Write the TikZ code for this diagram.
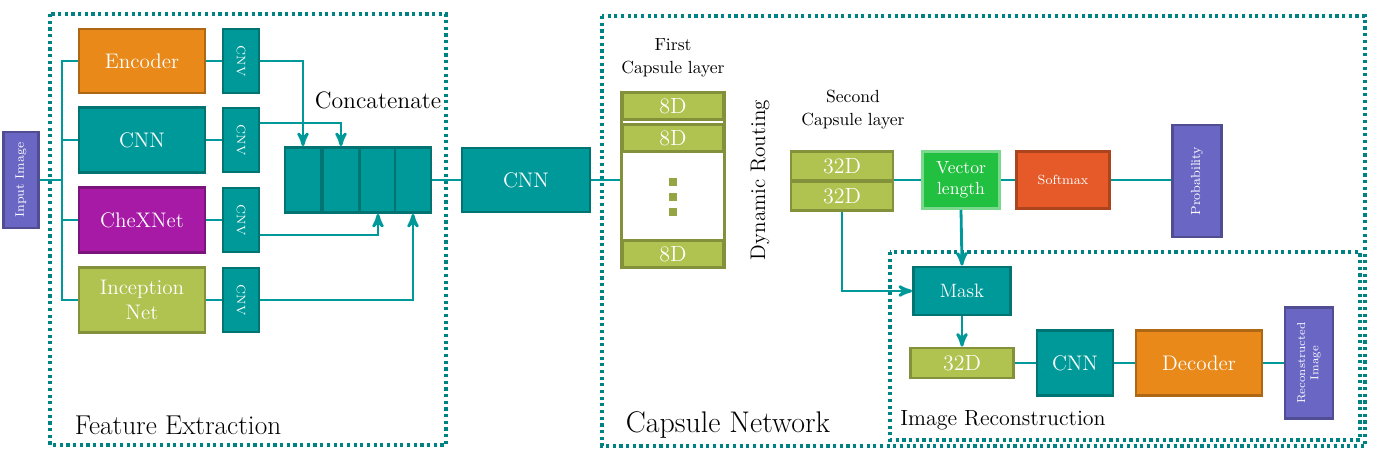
\documentclass[tikz,border=0pt]{standalone}
\usepackage{tikz}
\usetikzlibrary{arrows, positioning}
\definecolor{colorTeal}{HTML}{009999}
\definecolor{colorOrange}{HTML}{E8891A}
\definecolor{colorPurple}{HTML}{A61AA6}
\definecolor{colorOlive}{HTML}{B0C24F}
\definecolor{colorViolet}{HTML}{6A67C4}
\definecolor{colorGreen}{HTML}{22C040}
\definecolor{colorRed}{HTML}{E55A28}
\tikzset{
  sz/.style 2 args={minimum width=#1*0.2mm, minimum height=#2*0.2mm},
  blk/.style={draw=#1!75!black, fill=#1, line width=1.6pt, text=white, inner sep=0pt, align=center},
  link/.style={colorTeal, line width=1.6pt},
  area/.style={draw=colorTeal!85!black, line width=1.8pt, dotted},
}
\newcommand{\fsz}[1]{\fontsize{#1}{#1}\selectfont}
\begin{document}
\begin{tikzpicture}[>=stealth', x=0.2mm, y=-0.2mm]
\useasboundingbox (0,0) rectangle (1377,462);
% frames
\draw[area] (50,14) rectangle (446,445);
\draw[area] (602,16) rectangle (1365,446);
\draw[area] (890,252) rectangle (1360,440);
\node[font=\fsz{15.5}] (lFeat) at (178,425) {Feature Extraction};
\node[font=\fsz{17}] (lCaps) at (728,425) {Capsule Network};
\node[font=\fsz{12.5}] (lRec) at (1003,420) {Image Reconstruction};
% feature extraction
\node[blk=colorViolet, sz={35}{96}] (inp) at (21,180) {};
\node[rotate=90, text=white, font=\fsz{7}] at (inp) {Input Image};
\node[blk=colorOrange, sz={126}{64}, font=\fsz{12}] (enc) at (142,61) {Encoder};
\node[blk=colorTeal, sz={126}{65}, font=\fsz{12}] (cnnA) at (142,140) {CNN};
\node[blk=colorPurple, sz={126}{65}, font=\fsz{12}] (chex) at (142,220) {CheXNet};
\node[blk=colorOlive, sz={126}{65}, font=\fsz{12}] (incep) at (142,300) {Inception\\[2pt]Net};
\foreach \n/\y in {1/61, 2/140, 3/220, 4/300}
  \node[blk=colorTeal, sz={36}{64}] (cnv\n) at (241,\y) {};
\foreach \n in {1,...,4}
  \node[rotate=-90, text=white, font=\fsz{7}] at (cnv\n) {CNV};
\foreach \n/\x in {1/303, 2/341, 3/378, 4/413}
  \node[blk=colorTeal, sz={36}{65}] (cat\n) at (\x,180) {};
\node[font=\fsz{13.5}] (lCat) at (378,100) {Concatenate};
\coordinate (trunk) at (62,180);
\draw[link] (inp.east) -- (trunk);
\draw[link] (enc.west) -| (62,300) -- (incep.west);
\draw[link] (cnnA.west) -- (62,140);
\draw[link] (chex.west) -- (62,220);
\draw[link] (enc) -- (cnv1);
\draw[link] (cnnA) -- (cnv2);
\draw[link] (chex) -- (cnv3);
\draw[link] (incep) -- (cnv4);
\draw[link, ->] (cnv1.east) -| (cat1.north);
\draw[link, ->] (cnv2.east |- 0,123) -| (cat2.north);
\draw[link, ->] (cnv3.east |- 0,235) -| (cat3.south);
\draw[link, ->] (cnv4.east) -| (cat4.south);
% capsule network
\node[blk=colorTeal, sz={128}{64}, font=\fsz{12}] (cnnB) at (526,180) {CNN};
\draw[link] (cat4.east) -- (cnnB.west);
\node[align=center, font=\fsz{10}] (lFirst) at (673,58) {First\\[3pt]Capsule layer};
\node[draw=colorOlive!75!black, line width=1.6pt, sz={103}{175}] (capA) at (673,180) {};
\node[blk=colorOlive, sz={100}{27}, font=\fsz{12.5}] (d1) at (673,106) {8D};
\node[blk=colorOlive, sz={100}{27}, font=\fsz{12.5}] (d2) at (673,138) {8D};
\node[blk=colorOlive, sz={100}{27}, font=\fsz{12.5}] (d3) at (673,254) {8D};
\foreach \y in {182,197,212}
  \fill[colorOlive!85!black] (669,\y-4) rectangle (677,\y+4);
\draw[link] (cnnB.east) -- (capA.west);
\node[rotate=90, font=\fsz{12}] (lDyn) at (760,180) {Dynamic Routing};
\node[align=center, font=\fsz{10}] (lSecond) at (853,110) {Second\\[3pt]Capsule layer};
\node[blk=colorOlive, sz={102}{29}, font=\fsz{12.5}] (e1) at (842,166) {32D};
\node[blk=colorOlive, sz={102}{29}, font=\fsz{12.5}] (e2) at (842,196) {32D};
\node[blk=colorGreen, draw=colorGreen!60!white, sz={77}{57}, font=\fsz{10}] (vec) at (961,180) {Vector\\[2pt]length};
\node[blk=colorRed, sz={93}{57}, font=\fsz{7.5}] (soft) at (1063,180) {Softmax};
\node[blk=colorViolet, sz={49}{112}] (prob) at (1197,181) {};
\node[rotate=90, text=white, font=\fsz{7.5}] at (prob) {Probability};
\draw[link] (e1.east |- vec) -- (vec);
\draw[link] (vec) -- (soft);
\draw[link] (soft) -- (soft -| prob.west);
% image reconstruction
\node[blk=colorTeal, sz={97}{48}, font=\fsz{11}] (mask) at (962,291) {Mask};
\draw[link, ->] (vec.south) -- (mask.north);
\draw[link, ->] (e2.south) |- (mask.west);
\node[blk=colorOlive, sz={103}{30}, font=\fsz{12.5}] (f1) at (962,363) {32D};
\draw[link, ->] (mask.south) -- (f1.north);
\node[blk=colorTeal, sz={76}{65}, font=\fsz{12}] (cnnC) at (1075,363) {CNN};
\node[blk=colorOrange, sz={126}{65}, font=\fsz{12}] (dec) at (1199,363) {Decoder};
\node[blk=colorViolet, sz={48}{111}] (rec) at (1309,363) {};
\node[rotate=90, text=white, align=center, font=\fsz{6.5}] at (rec) {Reconstructed\\[1pt]Image};
\draw[link] (f1) -- (cnnC);
\draw[link] (cnnC) -- (dec);
\draw[link] (dec) -- (rec);
\end{tikzpicture}
\end{document}
